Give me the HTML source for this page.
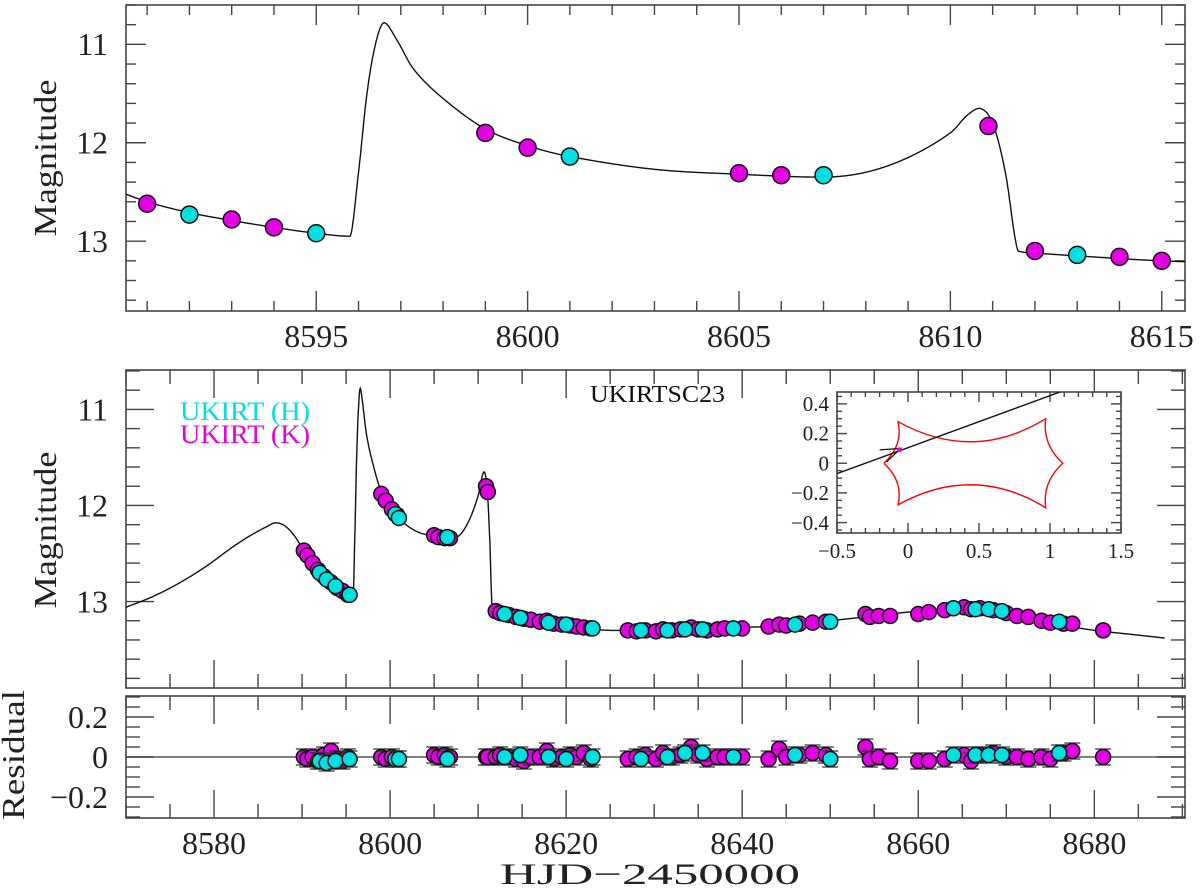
<!DOCTYPE html>
<html><head><meta charset="utf-8"><style>
html,body{margin:0;padding:0;background:#fff;}
svg{display:block;font-family:"Liberation Serif",serif;}
</style></head><body>
<svg id="chart" width="1200" height="895" viewBox="0 0 1200 895" xmlns="http://www.w3.org/2000/svg"></svg>
<script>
// ---- model light curve nodes ----
const modelT = [8570,8573,8576,8579,8582,8584,8586,8587,8588,8589,8590,8591,8592,8593,8594,8595,8595.8,8596.0,8596.2,8596.4,8596.6,8596.9,8597.3,8598,8599,8600,8601,8603,8605,8607,8608,8609,8610,8610.4,8610.7,8611,8611.3,8611.6,8612,8613,8615,8620,8625,8630,8635,8640,8645,8650,8655,8660,8665,8668,8672,8676,8680,8684,8688];
const modelM = [13.06,12.95,12.81,12.64,12.44,12.32,12.22,12.18,12.21,12.3,12.44,12.6,12.71,12.79,12.86,12.92,12.95,12.3,11.5,11.0,10.78,10.95,11.25,11.55,11.86,12.03,12.14,12.27,12.32,12.35,12.3,12.15,11.9,11.72,11.65,11.8,12.3,13.1,13.12,13.15,13.2,13.27,13.3,13.3,13.29,13.27,13.25,13.2,13.15,13.1,13.08,13.1,13.17,13.24,13.3,13.34,13.38];
// ---- top panel binned points ----
const topT = [8591,8592,8593,8594,8595,8599,8600,8601,8605,8606,8607,8610.9,8612,8613,8614,8615];
const topM = [12.62,12.73,12.78,12.86,12.92,11.9,12.05,12.14,12.31,12.33,12.33,11.83,13.1,13.14,13.16,13.2];
const topBand = ["K","H","K","K","H","K","K","H","K","K","H","K","K","H","K","K"];
// ---- K-band data ----
const kT = [8590.2,8590.6,8591.2,8591.8,8592.5,8593.3,8594.0,8594.6,8595.2,8599.0,8599.5,8600.2,8600.8,8605.0,8605.5,8606.2,8606.8,8610.9,8611.1,8612.0,8612.5,8613.5,8614.3,8615.2,8616.0,8617.0,8617.8,8618.6,8619.5,8620.5,8621.2,8622.0,8622.8,8627.0,8628.0,8629.0,8630.2,8631.0,8632.0,8633.0,8634.2,8635.0,8636.0,8637.2,8638.0,8640.0,8643.0,8644.2,8645.0,8646.5,8648.0,8649.5,8654.0,8654.5,8655.5,8656.8,8660.0,8661.2,8663.0,8665.2,8666.0,8667.0,8668.5,8670.0,8671.2,8672.5,8674.0,8675.0,8676.5,8677.5,8681.0];
const kM = [12.47,12.52,12.6,12.67,12.74,12.8,12.86,12.89,12.93,11.88,11.95,12.04,12.1,12.31,12.33,12.34,12.34,11.8,11.86,13.1,13.12,13.14,13.16,13.18,13.19,13.21,13.2,13.23,13.24,13.25,13.26,13.27,13.28,13.3,13.31,13.3,13.31,13.29,13.3,13.29,13.27,13.29,13.3,13.29,13.28,13.28,13.26,13.24,13.25,13.23,13.22,13.21,13.13,13.16,13.15,13.15,13.13,13.11,13.09,13.06,13.08,13.07,13.09,13.12,13.15,13.16,13.2,13.22,13.23,13.23,13.3];
const kR = [0,-0.01,0,-0.02,0.01,0.03,-0.01,-0.02,0,0,-0.01,0,-0.01,0.01,0,0.01,0,0,0,0,0.01,0,-0.01,-0.02,0,0,0.03,-0.01,0,0.01,0,0.02,-0.01,-0.01,0,0.01,-0.01,0.02,0,0.01,0.05,0.01,-0.01,0,0,0,-0.01,0.04,0,0.01,0.02,0.01,0.05,-0.01,0,-0.02,-0.02,-0.02,-0.01,0.01,-0.02,0.01,0.02,0,0,-0.01,0,-0.01,0.02,0.03,0];
// ---- H-band data ----
const hT = [8592.0,8592.8,8593.8,8595.4,8600.6,8601.0,8606.5,8613.0,8614.8,8618.0,8620.0,8623.0,8628.5,8631.5,8633.5,8635.5,8639.0,8646.0,8650.0,8664.0,8666.5,8668.0,8669.5,8676.0];
const hM = [12.7,12.77,12.84,12.93,12.09,12.13,12.33,13.13,13.17,13.22,13.24,13.28,13.3,13.3,13.29,13.29,13.28,13.24,13.21,13.07,13.08,13.08,13.1,13.21];
const hR = [-0.02,-0.03,-0.02,-0.01,-0.01,-0.01,-0.01,0,0.01,0,-0.01,0,-0.01,0,0.02,0.02,0,0.01,-0.01,0.01,0.01,0.01,0.01,0.02];
const resErr = 0.04;
// ---- inset (source trajectory & caustic) ----
const causticCuspX = [-0.17,-0.07,0.97,1.09,0.97,-0.07];
const causticCuspY = [0,0.28,0.3,0,-0.3,-0.28];
const trajX = [-0.5,1.07];
const trajY = [-0.07,0.48];

const NS="http://www.w3.org/2000/svg";
const svg=document.getElementById('chart');
function el(tag,attrs,parent){const e=document.createElementNS(NS,tag);for(const k in attrs)e.setAttribute(k,attrs[k]);(parent||svg).appendChild(e);return e;}
function txt(s,x,y,size,anchor,fill,parent,len){const a={x:x,y:y,'font-size':size,'text-anchor':anchor||'middle',fill:fill||'#222'};if(len){a.textLength=len;a.lengthAdjust='spacingAndGlyphs';}const t=el('text',a,parent);t.textContent=s;return t;}
function modelAt(t){
  const n=modelT.length;
  if(t<=modelT[0])return modelM[0];if(t>=modelT[n-1])return modelM[n-1];
  let i=0;while(i<n-2&&t>modelT[i+1])i++;
  const t0=modelT[i],t1=modelT[i+1],h=t1-t0,u=(t-t0)/h;
  const m0=i>0?(modelM[i+1]-modelM[i-1])/(modelT[i+1]-modelT[i-1])*h:(modelM[i+1]-modelM[i]);
  const m1=i<n-2?(modelM[i+2]-modelM[i])/(modelT[i+2]-modelT[i])*h:(modelM[i+1]-modelM[i]);
  const dlt=modelM[i+1]-modelM[i];
  const c0=Math.sign(m0)!==Math.sign(dlt)&&dlt!==0?0:(Math.abs(m0)>3*Math.abs(dlt)?3*dlt:m0);
  const c1=Math.sign(m1)!==Math.sign(dlt)&&dlt!==0?0:(Math.abs(m1)>3*Math.abs(dlt)?3*dlt:m1);
  const u2=u*u,u3=u2*u;
  return (2*u3-3*u2+1)*modelM[i]+(u3-2*u2+u)*(dlt===0?0:c0)+(-2*u3+3*u2)*modelM[i+1]+(u3-u2)*(dlt===0?0:c1);
}

function panel(name,L,T,R,B,x0,x1,y0,y1){
  const g=el('g',{});
  
  
  const sx=v=>L+(v-x0)/(x1-x0)*(R-L);
  const sy=v=>T+(v-y0)/(y1-y0)*(B-T);
  return {g,sx,sy,L,T,R,B,x0,x1,y0,y1};
}
function frame(p,xMaj,xMin,yMaj,yMin,majLen,minLen,xLabels,yLabels,fs,yFmt,gap){
  const g=p.g;
  const ax=el('rect',{x:p.L,y:p.T,width:p.R-p.L,height:p.B-p.T,fill:'none',stroke:'#444','stroke-width':1.6},g);
  
  
  const eps=1e-6;
  for(let v=Math.ceil(p.x0/xMin-eps)*xMin;v<=p.x1+eps;v+=xMin){
    const isMaj=Math.abs(v/xMaj-Math.round(v/xMaj))<1e-6;const len=isMaj?majLen:minLen;const x=p.sx(v);
    el('line',{x1:x,y1:p.B,x2:x,y2:p.B-len,stroke:'#444','stroke-width':1.4},g);
    el('line',{x1:x,y1:p.T,x2:x,y2:p.T+len,stroke:'#444','stroke-width':1.4},g);
    if(isMaj&&xLabels){const t=txt((Math.round(v*100)/100).toString().replace('-','\u2212'),x,p.B+fs+4,fs,'middle','#222',g);}
  }
  const ylo=Math.min(p.y0,p.y1),yhi=Math.max(p.y0,p.y1);
  for(let v=Math.ceil(ylo/yMin-eps)*yMin;v<=yhi+eps;v+=yMin){
    const isMaj=Math.abs(v/yMaj-Math.round(v/yMaj))<1e-6;const len=isMaj?majLen:minLen;const y=p.sy(v);
    el('line',{x1:p.L,y1:y,x2:p.L+len,y2:y,stroke:'#444','stroke-width':1.4},g);
    el('line',{x1:p.R,y1:y,x2:p.R-len,y2:y,stroke:'#444','stroke-width':1.4},g);
    if(isMaj&&yLabels){const t=txt(yFmt(v),p.L-gap,y+fs*0.34,fs,'end','#222',g);}
  }
}
function modelLine(p,name){
  let d='';const step=(p.x1-p.x0)/2500;
  for(let t=Math.max(p.x0,modelT[0]);t<=Math.min(p.x1,modelT[modelT.length-1]);t+=step){d+=(d?'L':'M')+p.sx(t).toFixed(1)+','+p.sy(modelAt(t)).toFixed(1);}
  const l=el('path',{d:d,fill:'none',stroke:'#111','stroke-width':1.4},p.g);
  
  
}
function clip(p,id){const c=el('clipPath',{id:id});el('rect',{x:p.L,y:p.T,width:p.R-p.L,height:p.B-p.T},c);p.g.setAttribute('clip-path','url(#'+id+')');}
const MAG='#e400e4',CY='#00e0e0';
function dot(p,t,m,band,r,parent){
  const c=el('circle',{cx:p.sx(t),cy:p.sy(m),r:r,fill:band==='H'?CY:MAG,stroke:'#111','stroke-width':1.5},parent||p.g);
  
  
}
const FS=32;

// ===== Top panel =====
const P1=panel('top-zoom-panel',126,5,1185,311,8590.5,8615.55,10.6,13.71);
frame(P1,5,1,1,0.2,20,10,true,true,FS,v=>String(Math.round(v)),18);
const g1=el('g',{});P1.g.appendChild(g1);
{const pc=panel('x',126,5,1185,311,8590.5,8615.55,10.6,13.71);pc.g=g1;clip(pc,'c1');modelLine(pc,'model-curve-top');
for(let i=0;i<topT.length;i++)dot(pc,topT[i],topM[i],topBand[i],8.5,g1);}
{const yl=txt('Magnitude',0,0,32,'middle','#222',null,157);yl.setAttribute('transform','translate(56,158) rotate(-90)');}

// ===== Middle panel =====
const P2=panel('light-curve-panel',126,370,1185,688,8570,8690.3,10.59,13.9);
frame(P2,20,5,1,0.2,28,14,false,true,FS,v=>String(Math.round(v)),18);
const g2=el('g',{});P2.g.appendChild(g2);
{const pc=panel('x',126,370,1185,688,8570,8690.3,10.59,13.9);pc.g=g2;clip(pc,'c2');modelLine(pc,'model-curve');
for(let i=0;i<kT.length;i++)dot(pc,kT[i],kM[i],'K',7.5,g2);
for(let i=0;i<hT.length;i++)dot(pc,hT[i],hM[i],'H',7.5,g2);}
{const yl=txt('Magnitude',0,0,32,'middle','#222',null,157);yl.setAttribute('transform','translate(56,530) rotate(-90)');}
{const a=txt('UKIRT (H)',180,420,26,'start',CY,null,130);
 const b=txt('UKIRT (K)',180,443,26,'start',MAG,null,130);
 const c=txt('UKIRTSC23',590,402,24,'start','#111',null,135);}

// ===== Residual panel =====
const P3=panel('residual-panel',126,696,1185,818,8570,8690.3,0.305,-0.305);
frame(P3,20,5,0.2,0.05,28,14,true,true,FS,v=>{const r=Math.round(v*10)/10;return r===0?'0':r.toFixed(1).replace('-','\u2212');},18);
{const z=el('line',{x1:P3.L,y1:P3.sy(0),x2:P3.R,y2:P3.sy(0),stroke:'#333','stroke-width':1.2},P3.g);}
function resPt(t,r,band,e){
  const x=P3.sx(t),ya=P3.sy(r+e),yb=P3.sy(r-e);
  const eb=el('path',{d:`M${x},${ya}L${x},${yb}M${x-8},${ya}L${x+8},${ya}M${x-8},${yb}L${x+8},${yb}`,stroke:'#333','stroke-width':1.3,fill:'none'},P3.g);
  
  dot(P3,t,r,band,7.5);
}
for(let i=0;i<kT.length;i++)resPt(kT[i],kR[i],'K',resErr);
for(let i=0;i<hT.length;i++)resPt(hT[i],hR[i],'H',resErr);
{const yl=txt('Residual',0,0,32,'middle','#222',null,130);yl.setAttribute('transform','translate(24,755) rotate(-90)');}
{const xl=txt('HJD\u22122450000',650,884,30,'middle','#222',null,300);}

// ===== Inset =====
const P4=panel('caustic-inset',837,392,1121,533,-0.5,1.5,0.48,-0.47);
el('rect',{x:837,y:392,width:284,height:141,fill:'#fff'},P4.g);
frame(P4,0.5,0.1,0.2,0.05,10,5,true,true,21,v=>{const r=Math.round(v*10)/10;return r===0?'0':r.toFixed(1).replace('-','\u2212');},8);
{
  const g4=el('g',{});P4.g.appendChild(g4);
  const pc=panel('x',837,392,1121,533,-0.5,1.5,0.48,-0.47);pc.g=g4;clip(pc,'c4');
  const cx=0.46,cy=0;const bow=[0.15,1.0,0.15,0.15,1.0,0.15];let d='';
  for(let i=0;i<causticCuspX.length;i++){
    const j=(i+1)%causticCuspX.length;
    const ax=causticCuspX[i],ay=causticCuspY[i],bx=causticCuspX[j],by=causticCuspY[j];
    const mx=(ax+bx)/2,my=(ay+by)/2;const qx=mx+(cx-mx)*bow[i],qy=my+(cy-my)*bow[i];
    if(i===0)d+='M'+pc.sx(ax)+','+pc.sy(ay);
    d+='Q'+pc.sx(qx)+','+pc.sy(qy)+' '+pc.sx(bx)+','+pc.sy(by);
  }
  const cu=el('path',{d:d,fill:'none',stroke:'#f00','stroke-width':1.4},g4);
  const tr=el('line',{x1:pc.sx(trajX[0]),y1:pc.sy(trajY[0]),x2:pc.sx(trajX[1]),y2:pc.sy(trajY[1]),stroke:'#111','stroke-width':1.4},g4);
  const w=el('path',{d:`M${pc.sx(-0.2)},${pc.sy(0.09)}L${pc.sx(-0.05)},${pc.sy(0.1)}L${pc.sx(-0.15)},${pc.sy(0.01)}`,fill:'none',stroke:'#111','stroke-width':1.2},g4);
  const s=el('circle',{cx:pc.sx(-0.06),cy:pc.sy(0.09),r:2.5,fill:MAG},g4);
}
</script>
</body></html>
